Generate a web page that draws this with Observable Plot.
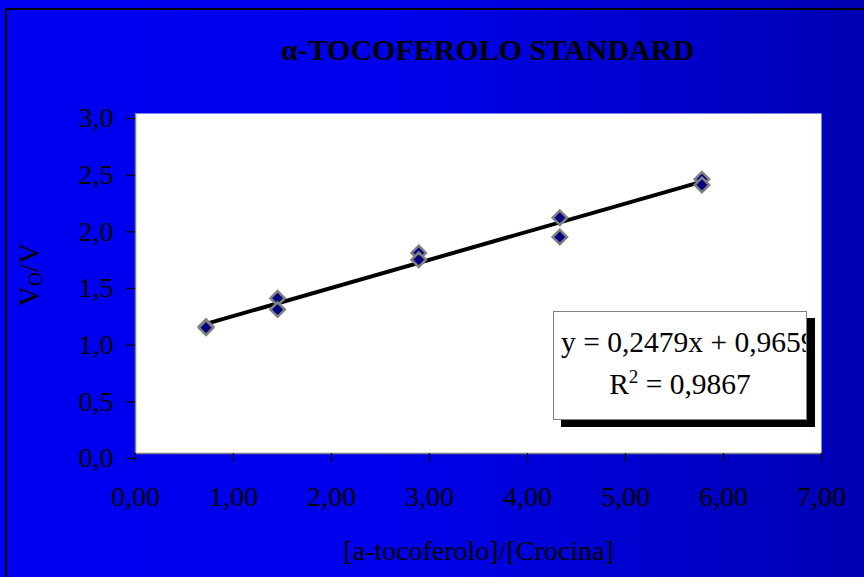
<!DOCTYPE html>
<html>
<head>
<meta charset="utf-8">
<script src="https://cdn.jsdelivr.net/npm/d3@7"></script>
<script src="https://cdn.jsdelivr.net/npm/@observablehq/plot@0.6"></script>
<style>
  html, body { margin: 0; padding: 0; }
  #wrap {
    position: relative; width: 864px; height: 577px; overflow: hidden;
    background: linear-gradient(to right, #0000f2 0%, #0000ec 45%, #0000b4 100%);
    font-family: "Liberation Serif", "Times New Roman", serif;
  }
  #border {
    position: absolute; left: 5px; top: 8px; width: 900px; height: 600px;
    border-top: 2px solid #000; border-left: 2px solid #000;
  }
  #ylab {
    position: absolute; left: 30px; top: 275px; transform: translate(-50%, -50%) rotate(-90deg);
    font-size: 29px; white-space: nowrap; color: #000;
  }
  #ylab sub { font-size: 19px; vertical-align: -3px; }
  #eq {
    position: absolute; left: 553px; top: 311px; width: 252px; height: 107px;
    background: #fff; border: 1px solid #808080; box-shadow: 8px 7px 0 #000;
    overflow: hidden; font-size: 29.5px; color: #000; white-space: nowrap;
  }
  #eq .l1 { position: absolute; left: 7px; top: 14px; }
  #eq .l2 { position: absolute; left: 0; width: 100%; text-align: center; top: 54px; }
  #eq sup { font-size: 19px; vertical-align: 11px; }
  #chart { position: absolute; left: 0; top: 0; }
</style>
</head>
<body>
<div id="wrap">
  <div id="border"></div>
  <div id="chart"></div>
  <div id="ylab">V<sub>O</sub>/V</div>
  <div id="eq"><span class="l1">y = 0,2479x + 0,9659</span><span class="l2">R<sup>2</sup> = 0,9867</span></div>
</div>
<script>
// Data
const conc = [0.72, 0.72, 1.45, 1.45, 2.89, 2.89, 4.33, 4.33, 5.78, 5.78];
const ratio = [1.12, 1.11, 1.37, 1.27, 1.77, 1.71, 2.08, 1.91, 2.42, 2.37];
const slope = 0.2479;
const intercept = 0.9659;
const xTicks = [0, 1, 2, 3, 4, 5, 6, 7];
const yTicks = [0, 0.5, 1, 1.5, 2, 2.5, 3];
const title = "α-TOCOFEROLO STANDARD";
const xLabel = "[a-tocoferolo]/[Crocina]";

const points = conc.map((x, i) => ({x, y: ratio[i]}));
const ext = d3.extent(conc);
const fit = ext.map(x => ({x, y: slope * x + intercept}));
const comma = f => v => d3.format(f)(v).replace(".", ",");

const chart = Plot.plot({
  width: 864, height: 577,
  marginLeft: 135, marginRight: 43, marginTop: 113, marginBottom: 124,
  style: {background: "transparent", fontFamily: "Liberation Serif, Times New Roman, serif", fontSize: "28px", color: "#000", overflow: "visible"},
  x: {domain: [0, 7]},
  y: {domain: [0, 3]},
  marks: [
    Plot.frame({fill: "white", stroke: null}),
    Plot.ruleX([0], {stroke: "#808080", strokeWidth: 1.5}),
    Plot.ruleY([0], {stroke: "#808080", strokeWidth: 1.5}),
    Plot.axisX({ticks: xTicks, tickFormat: comma(".2f"), tickSize: 9, tickPadding: 24, stroke: "#000", strokeWidth: 1.2, label: null, fontSize: 28}),
    Plot.axisY({ticks: yTicks, tickFormat: comma(".1f"), tickSize: 9, tickPadding: 13, dy: 5, stroke: "#000", strokeWidth: 1.2, label: null, fontSize: 28}),
    Plot.line(fit, {x: "x", y: "y", stroke: "#000", strokeWidth: 4}),
    Plot.dot(points, {x: "x", y: "y", symbol: "diamond2", r: 6.5, fill: "#000080", stroke: "#808080", strokeWidth: 2.5}),
    Plot.text([title], {frameAnchor: "top", dy: -75, dx: 9, fontWeight: "bold", fontSize: 30, fill: "#000"}),
    Plot.text([xLabel], {frameAnchor: "bottom", dy: 106, fontSize: 28, fill: "#000"})
  ]
});
document.getElementById("chart").appendChild(chart);
</script>
</body>
</html>
